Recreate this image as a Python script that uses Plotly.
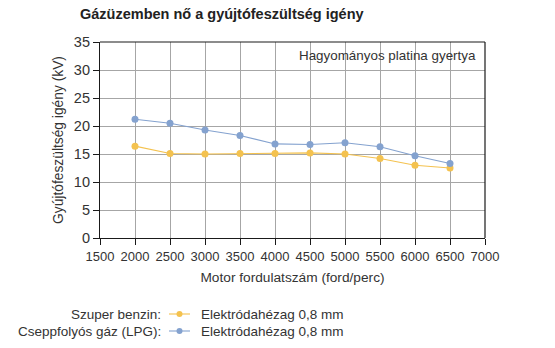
import plotly.graph_objects as go

rpm = [2000, 2500, 3000, 3500, 4000, 4500, 5000, 5500, 6000, 6500]
benzin = [16.4, 15.1, 15.0, 15.1, 15.1, 15.2, 15.0, 14.2, 13.0, 12.5]
lpg = [21.2, 20.5, 19.3, 18.3, 16.8, 16.7, 17.0, 16.3, 14.7, 13.3]
series_names = ["Elektródahézag 0,8 mm", "Elektródahézag 0,8 mm"]
group_labels = ["Szuper benzin:", "Cseppfolyós gáz (LPG):"]
x_ticks = [1500, 2000, 2500, 3000, 3500, 4000, 4500, 5000, 5500, 6000, 6500, 7000]
y_ticks = [0, 5, 10, 15, 20, 25, 30, 35]

YELLOW = "#f4c24f"
BLUE = "#84a2cf"
COLORS = [YELLOW, BLUE]
FONT = "Liberation Sans, Arial, sans-serif"
TXT = "#333333"

L, R, T, B = 100, 485, 42, 238
PW, PH = R - L, B - T

def px(xp):
    return (xp - L) / PW

def py(yp):
    return (B - yp) / PH

fig = go.Figure()
for vals, name, col in zip([benzin, lpg], series_names, COLORS):
    fig.add_trace(go.Scatter(x=rpm, y=vals, mode="lines+markers", name=name,
                             line=dict(color=col, width=1.1),
                             marker=dict(color=col, size=7),
                             showlegend=False))

axis_common = dict(showgrid=True, gridcolor="#a6a6a6", gridwidth=1,
                   showline=True, linecolor="#1a1a1a", linewidth=1.2,
                   ticks="outside", ticklen=6, tickcolor="#1a1a1a",
                   zeroline=False, mirror=False)

fig.update_layout(
    width=555, height=348,
    margin=dict(l=L, r=555 - R, t=T, b=348 - B, autoexpand=False),
    paper_bgcolor="white", plot_bgcolor="white",
    font=dict(family=FONT, size=13.5, color=TXT),
    xaxis=dict(range=[1500, 7000], tickvals=x_ticks, **axis_common,
               tickfont=dict(family=FONT, size=13, color=TXT),
               title=dict(text="Motor fordulatszám (ford/perc)",
                          font=dict(family=FONT, size=13.7, color=TXT), standoff=9)),
    yaxis=dict(range=[0, 35], tickvals=y_ticks, **axis_common,
               tickfont=dict(family=FONT, size=14.5, color=TXT),
               title=dict(text="Gyújtófeszültség igény (kV)",
                          font=dict(family=FONT, size=13.8, color=TXT), standoff=7)),
    showlegend=False,
)

# top and right border
fig.add_shape(type="line", xref="paper", yref="paper", x0=0, x1=1, y0=1, y1=1,
              line=dict(color="#1a1a1a", width=1.2))
fig.add_shape(type="line", xref="paper", yref="paper", x0=1, x1=1, y0=0, y1=1,
              line=dict(color="#1a1a1a", width=1.2))

fig.add_annotation(text="<b>Gázüzemben nő a gyújtófeszültség igény</b>",
                   xref="paper", yref="paper", x=px(78), y=py(14),
                   xanchor="left", yanchor="middle", showarrow=False,
                   font=dict(family=FONT, size=14.5, color="#222222"))
fig.add_annotation(text="Hagyományos platina gyertya",
                   xref="paper", yref="paper", x=px(478), y=py(56),
                   xanchor="right", yanchor="middle", showarrow=False,
                   font=dict(family=FONT, size=13.4, color=TXT))

# legend built from shapes + annotations
for i, (lab, name, col) in enumerate(zip(group_labels, series_names, COLORS)):
    yrow = 314 + 17 * i
    fig.add_annotation(text=lab, xref="paper", yref="paper",
                       x=px(163), y=py(yrow), xanchor="right", yanchor="middle",
                       showarrow=False, font=dict(family=FONT, size=13.5, color=TXT))
    fig.add_shape(type="line", xref="paper", yref="paper",
                  x0=px(169), x1=px(190), y0=py(yrow), y1=py(yrow),
                  line=dict(color=col, width=1.1))
    fig.add_shape(type="circle", xref="paper", yref="paper",
                  x0=px(176.5), x1=px(182.5), y0=py(yrow + 3), y1=py(yrow - 3),
                  line=dict(color=col, width=0), fillcolor=col)
    fig.add_annotation(text=name, xref="paper", yref="paper",
                       x=px(199), y=py(yrow), xanchor="left", yanchor="middle",
                       showarrow=False, font=dict(family=FONT, size=13.5, color=TXT))

fig.write_html("out.html")
